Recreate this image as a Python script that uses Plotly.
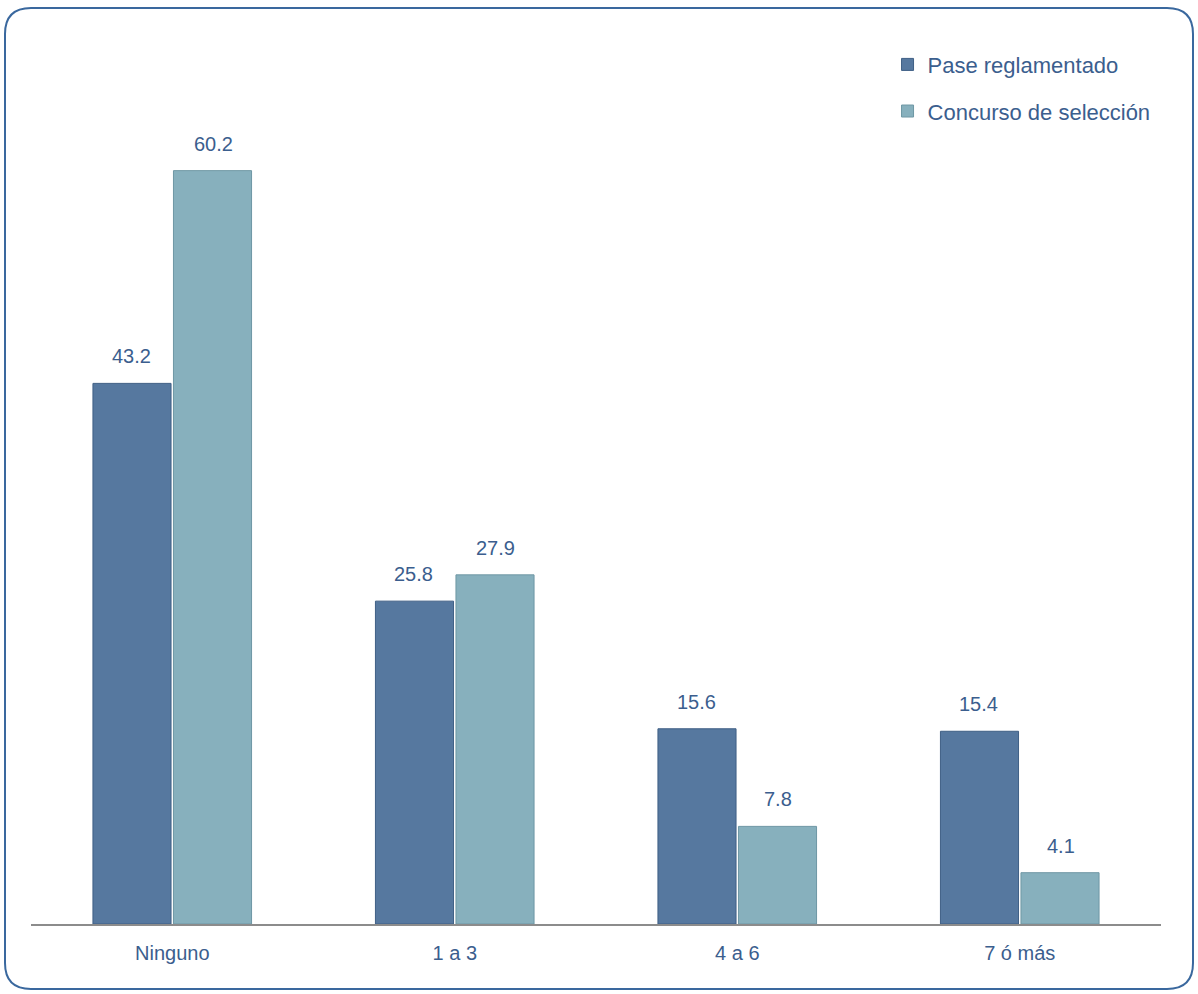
import plotly.graph_objects as go

categories = ["Ninguno", "1 a 3", "4 a 6", "7 ó más"]
pase = [43.2, 25.8, 15.6, 15.4]
concurso = [60.2, 27.9, 7.8, 4.1]
series_names = ["Pase reglamentado", "Concurso de selección"]

BLUE = "#56789F"
TEAL = "#87B0BD"
TEXT = "#3B5E8E"
FONT = "Liberation Sans, Arial, sans-serif"

fig = go.Figure()
fig.add_trace(go.Bar(x=categories, y=pase, name=series_names[0], legendgroup="a",
                     marker=dict(color=BLUE, line=dict(color="#3F5F85", width=1))))
fig.add_trace(go.Bar(x=categories, y=concurso, name=series_names[1], legendgroup="b",
                     marker=dict(color=TEAL, line=dict(color="#6E97A4", width=1))))

# data labels
for i, c in enumerate(categories):
    for vals, dx in ((pase, -41), (concurso, 41)):
        fig.add_annotation(x=c, y=vals[i], text=f"{vals[i]:.1f}", showarrow=False,
                           xshift=dx, yshift=27, font=dict(size=20, color=TEXT, family=FONT))

# outer rounded border
L, R, T, B = 31, 1161, 48, 924
def px(x):
    return (x - L) / (R - L)
def py(y):
    return (B - y) / (B - T)
x0, x1, y0, y1, r = 5, 1193, 8, 989, 26
path = (f"M {px(x0+r)},{py(y0)} L {px(x1-r)},{py(y0)} Q {px(x1)},{py(y0)} {px(x1)},{py(y0+r)} "
        f"L {px(x1)},{py(y1-r)} Q {px(x1)},{py(y1)} {px(x1-r)},{py(y1)} "
        f"L {px(x0+r)},{py(y1)} Q {px(x0)},{py(y1)} {px(x0)},{py(y1-r)} "
        f"L {px(x0)},{py(y0+r)} Q {px(x0)},{py(y0)} {px(x0+r)},{py(y0)} Z")
fig.add_shape(type="path", path=path, xref="paper", yref="paper",
              line=dict(color="#3A689E", width=2), layer="below")

fig.update_layout(
    width=1198, height=994,
    margin=dict(l=L, r=1198 - R, t=T, b=994 - B),
    paper_bgcolor="white", plot_bgcolor="white",
    barmode="group", bargap=0.43, bargroupgap=0.03,
    font=dict(family=FONT, color=TEXT),
    showlegend=True,
    legend=dict(x=0.758, y=1.005, xanchor="left", yanchor="top",
                font=dict(size=22, color=TEXT, family=FONT),
                traceorder="grouped", tracegroupgap=15, itemwidth=30,
                bgcolor="rgba(0,0,0,0)"),
    xaxis=dict(showline=True, linecolor="#8C8C8C", linewidth=2, ticks="",
               ticklabelstandoff=10,
               tickfont=dict(size=20, color=TEXT, family=FONT), showgrid=False),
    yaxis=dict(range=[0, 70], visible=False, showgrid=False),
)

fig.write_html("out.html", config={"displayModeBar": False},
               post_script="document.body.style.margin='0';")
